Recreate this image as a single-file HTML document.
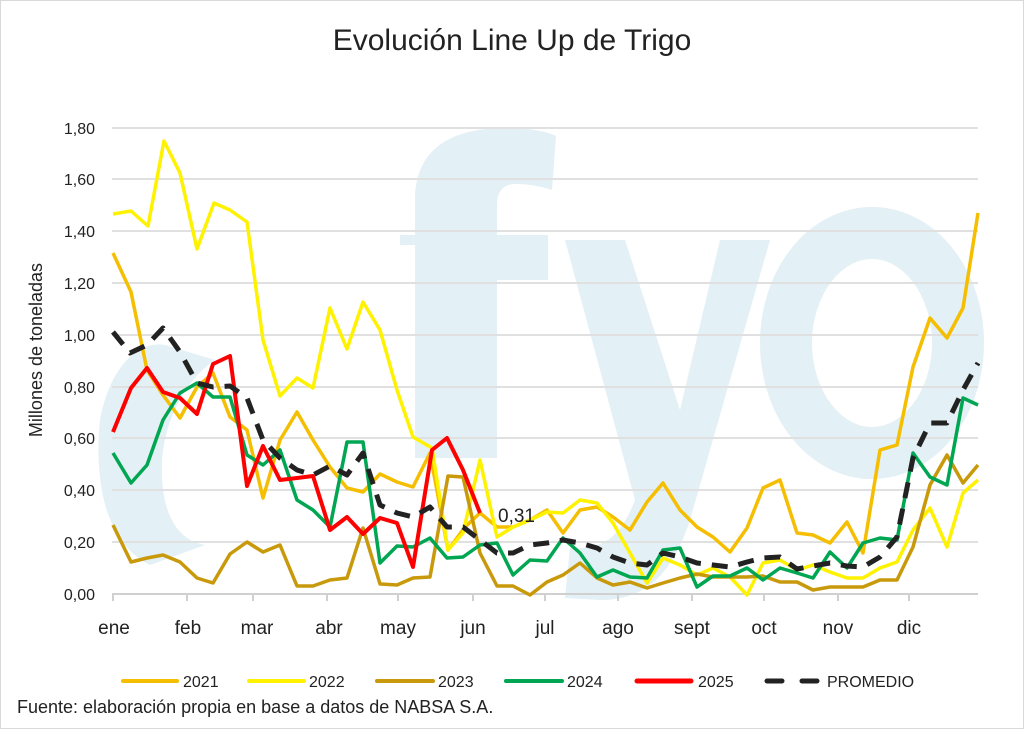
<!DOCTYPE html>
<html><head><meta charset="utf-8"><style>
html,body{margin:0;padding:0;background:#fff}
svg{display:block}
text{font-family:"Liberation Sans",sans-serif}
</style></head><body>
<svg width="1024" height="729" viewBox="0 0 1024 729" xmlns="http://www.w3.org/2000/svg">
<rect x="0.5" y="0.5" width="1023" height="728" fill="#fff" stroke="#d9d9d9"/>
<!-- watermark -->
<g fill="#e3f0f5" stroke="none">
<path d="M415 458 V245 H400 V235 H415 V200 C415 150 450 128 505 128 C530 128 548 132 556 136 L552 190 C540 186 528 184 515 184 C503 184 497 192 497 205 V235 H548 V280 H497 V458 Z"/>
<path d="M565 240 H625 L680 410 L720 240 H770 L690 520 C672 575 645 600 600 600 L565 598 L570 548 C600 550 620 540 635 500 Z"/>
</g>
<ellipse cx="872" cy="343" rx="86" ry="110" fill="none" stroke="#e3f0f5" stroke-width="52"/>
<path d="M150 565 C100 540 95 470 100 420 C110 365 140 340 165 345 L215 360 C185 380 165 420 162 460 C160 510 175 540 205 545 Z" fill="#e3f0f5"/>
<!-- gridlines -->
<g stroke="#e0e0e0" stroke-width="2">
<line x1="112" x2="978" y1="542" y2="542"/><line x1="112" x2="978" y1="490" y2="490"/>
<line x1="112" x2="978" y1="438" y2="438"/><line x1="112" x2="978" y1="387" y2="387"/>
<line x1="112" x2="978" y1="335" y2="335"/><line x1="112" x2="978" y1="283" y2="283"/>
<line x1="112" x2="978" y1="231" y2="231"/><line x1="112" x2="978" y1="179" y2="179"/>
<line x1="112" x2="978" y1="128" y2="128"/>
</g>
<line x1="112" x2="978" y1="594" y2="594" stroke="#d0d0d0" stroke-width="2"/>
<g stroke="#d0d0d0" stroke-width="2">
<line x1="113" x2="113" y1="594" y2="601"/><line x1="187" x2="187" y1="594" y2="601"/>
<line x1="253" x2="253" y1="594" y2="601"/><line x1="327" x2="327" y1="594" y2="601"/>
<line x1="398" x2="398" y1="594" y2="601"/><line x1="473" x2="473" y1="594" y2="601"/>
<line x1="545" x2="545" y1="594" y2="601"/><line x1="618" x2="618" y1="594" y2="601"/>
<line x1="692" x2="692" y1="594" y2="601"/><line x1="764" x2="764" y1="594" y2="601"/>
<line x1="838" x2="838" y1="594" y2="601"/><line x1="909" x2="909" y1="594" y2="601"/>
</g>
<!-- y labels -->
<g font-size="16" fill="#222" text-anchor="end">
<text x="95" y="600">0,00</text><text x="95" y="548">0,20</text><text x="95" y="496">0,40</text>
<text x="95" y="444">0,60</text><text x="95" y="393">0,80</text><text x="95" y="341">1,00</text>
<text x="95" y="289">1,20</text><text x="95" y="237">1,40</text><text x="95" y="185">1,60</text>
<text x="95" y="134">1,80</text>
</g>
<text transform="translate(42,350) rotate(-90)" font-size="18" fill="#222" text-anchor="middle">Millones de toneladas</text>
<g font-size="19" fill="#222" text-anchor="middle">
<text x="114" y="634">ene</text><text x="188" y="634">feb</text><text x="257" y="634">mar</text>
<text x="329" y="634">abr</text><text x="398" y="634">may</text><text x="473" y="634">jun</text>
<text x="545" y="634">jul</text><text x="618" y="634">ago</text><text x="692" y="634">sept</text>
<text x="764" y="634">oct</text><text x="838" y="634">nov</text><text x="909" y="634">dic</text>
</g>
<text x="512" y="50" font-size="30" fill="#222" text-anchor="middle">Evolución Line Up de Trigo</text>
<!-- series -->
<g fill="none" stroke-linejoin="round" stroke-width="3.5">
<polyline stroke="#F5BE00" points="113,253 131,292 147,370 163,395 180,418 197,387 213,373 230,417 247,430 263,498 280,440 297,412 313,440 330,467 347,488 363,492 380,474 397,482 413,487 430,453 448,550 465,527 480,513 497,527 513,527 530,520 547,510 563,533 580,510 597,507 613,517 630,530 647,502 663,483 680,510 697,527 713,537 730,552 747,528 763,488 780,480 797,533 813,535 830,543 847,522 863,553 880,450 897,445 913,367 930,318 947,338 963,308 978,213"/>
<polyline stroke="#FFF200" points="113,214 131,211 148,226 164,141 180,173 197,249 214,203 230,210 247,222 263,340 280,396 297,378 313,388 330,308 347,349 363,302 380,330 397,390 413,437 432,448 448,550 463,533 480,460 497,537 513,527 530,520 547,512 563,513 580,500 597,503 613,523 630,553 647,583 663,558 680,565 697,575 713,568 730,577 747,595 763,563 780,560 797,570 813,565 830,572 847,578 863,578 880,568 897,562 913,530 930,508 947,547 963,493 978,480"/>
<polyline stroke="#C8990A" points="113,525 131,562 147,558 163,555 180,562 197,578 213,583 230,554 247,542 263,552 280,545 297,586 313,586 330,580 347,578 363,528 380,584 397,585 413,578 430,577 448,476 463,477 480,553 497,586 513,586 530,595 547,582 563,575 580,563 597,578 613,585 630,582 647,588 663,583 680,578 697,574 713,577 730,577 747,577 763,576 780,582 797,582 813,590 830,587 847,587 863,587 880,580 897,580 913,547 930,485 947,455 963,483 978,465"/>
<polyline stroke="#00A651" points="113,453 131,483 147,465 163,420 180,393 197,383 213,397 230,397 247,455 263,465 280,450 297,500 313,510 330,527 347,442 363,442 380,563 397,546 413,547 430,538 447,558 463,557 480,545 497,543 513,575 530,560 547,561 563,538 580,553 597,577 613,570 630,577 647,578 663,550 680,548 697,587 713,576 730,576 747,568 763,580 780,568 797,573 813,578 830,552 847,568 863,543 880,538 897,540 913,453 930,477 947,485 963,398 978,405"/>
<polyline stroke="#FF0000" stroke-width="4" points="113,432 131,388 147,368 163,392 180,398 197,414 213,364 230,356 247,486 263,446 280,480 297,478 313,476 330,530 347,517 363,534 380,518 397,523 413,567 432,450 447,438 463,470 480,513"/>
<polyline stroke="#222" stroke-width="5" stroke-dasharray="16,11" points="113,332 130,353 147,345 163,328 180,352 197,383 213,387 230,386 247,398 263,440 280,458 297,470 313,475 330,466 347,475 363,453 380,505 397,513 413,517 430,507 447,527 463,527 480,540 497,553 513,553 530,545 547,543 563,540 580,543 597,548 613,557 630,563 647,565 663,553 680,557 697,563 713,565 730,567 747,562 763,558 780,557 797,569 813,566 830,563 847,566 863,567 880,557 897,537 913,458 930,423 947,423 963,390 978,363"/>
</g>
<text x="498" y="522" font-size="19" fill="#222">0,31</text>
<!-- legend -->
<g stroke-width="4" stroke-linecap="round">
<line x1="123" x2="177" y1="681" y2="681" stroke="#F5BE00"/>
<line x1="249" x2="304" y1="681" y2="681" stroke="#FFF200"/>
<line x1="377" x2="433" y1="681" y2="681" stroke="#C8990A"/>
<line x1="506" x2="562" y1="681" y2="681" stroke="#00A651"/>
<line x1="637" x2="691" y1="681" y2="681" stroke="#FF0000" stroke-width="5"/>
<line x1="767" x2="782" y1="681" y2="681" stroke="#222" stroke-width="5"/>
<line x1="802" x2="817" y1="681" y2="681" stroke="#222" stroke-width="5"/>
</g>
<g font-size="16" fill="#222">
<text x="183" y="687">2021</text><text x="309" y="687">2022</text><text x="438" y="687">2023</text>
<text x="567" y="687">2024</text><text x="698" y="687">2025</text><text x="827" y="687">PROMEDIO</text>
</g>
<text x="17" y="713" font-size="18" fill="#222">Fuente: elaboración propia en base a datos de NABSA S.A.</text>
</svg>
</body></html>
